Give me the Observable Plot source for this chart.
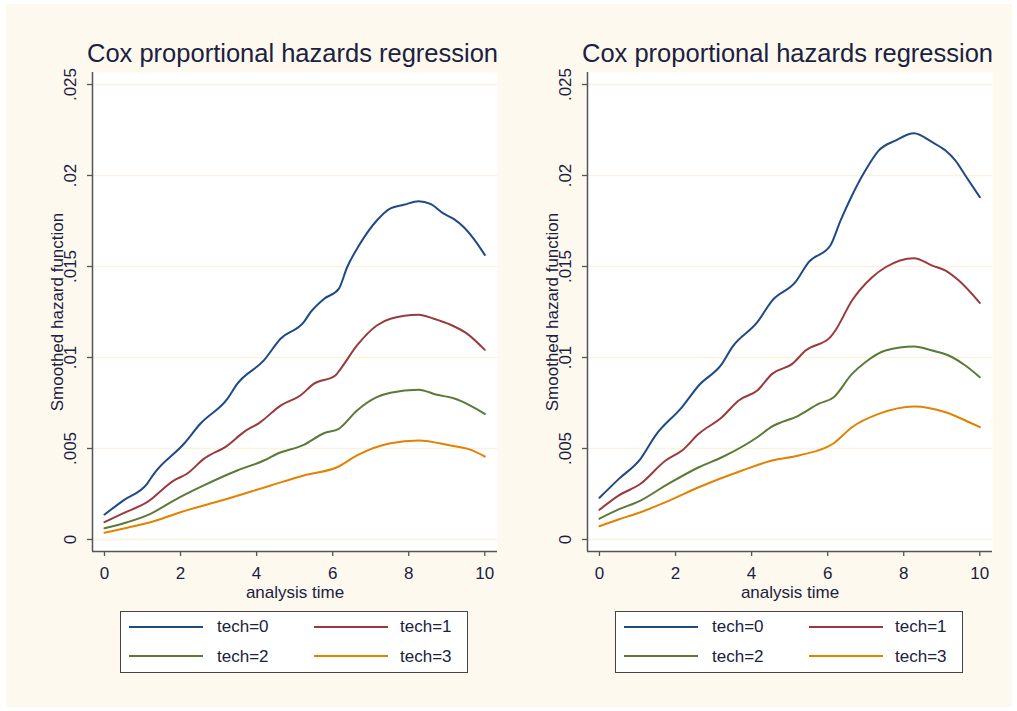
<!DOCTYPE html>
<html>
<head>
<meta charset="utf-8">
<script src="https://cdn.jsdelivr.net/npm/d3@7"></script>
<script src="https://cdn.jsdelivr.net/npm/@observablehq/plot@0.6"></script>
<style>
  html, body { margin: 0; padding: 0; background: #ffffff; }
  body { width: 1017px; height: 711px; overflow: hidden; }
  #page { position: absolute; left: 6px; top: 4px; width: 1006px; height: 703px; background: #fef9ef; }
  .abs { position: absolute; }
  .title { font-family: "Liberation Sans", Arial, sans-serif; font-size: 25.5px; line-height: 25px; color: #1b2140; white-space: nowrap; }
  .legend { background: #ffffff; border: 1px solid #444444; box-sizing: border-box; }
  .legtext { font-family: "Liberation Sans", Arial, sans-serif; font-size: 17px; line-height: 20px; color: #1b2140; white-space: nowrap; }
</style>
</head>
<body>
<div id="root"></div>
<script>
// ---------------- data ----------------
const techLabels = ["tech=0", "tech=1", "tech=2", "tech=3"];
const techColors = ["#1f4a85", "#9a3a40", "#5a7a35", "#e58100"];
const titleText = "Cox proportional hazards regression";
const yLabelText = "Smoothed hazard function";
const xLabelText = "analysis time";
const yTicks = [0, 0.005, 0.01, 0.015, 0.02, 0.025];
const yTickLabels = ["0", ".005", ".01", ".015", ".02", ".025"];
const xTicks = [0, 2, 4, 6, 8, 10];

// left panel: [analysis time, smoothed hazard]
const leftTech0 = [[0,0.00137],[0.5,0.00215],[1.12,0.00306],[1.30,0.00361],[2.09,0.00526],[2.52,0.00636],[3.23,0.00773],[3.49,0.00855],[4.19,0.00984],[4.63,0.01103],[5.24,0.01194],[5.42,0.01249],[5.77,0.01322],[6.16,0.01377],[6.38,0.01496],[6.69,0.01615],[7.16,0.01753],[7.52,0.0182],[7.87,0.01839],[8.26,0.01859],[8.57,0.01844],[8.92,0.0179],[9.18,0.01762],[9.45,0.01716],[9.71,0.01652],[10,0.01564]];
const leftTech1 = [[0,0.00095],[0.5,0.00145],[1.12,0.00205],[1.82,0.00324],[2.17,0.00361],[2.61,0.00443],[3.23,0.00516],[3.66,0.0059],[4.1,0.00645],[4.63,0.00736],[5.15,0.00791],[5.5,0.00855],[6.07,0.00901],[6.21,0.00938],[6.64,0.01066],[7.16,0.01176],[7.52,0.01213],[8.26,0.01235],[8.66,0.01213],[9.1,0.0118],[9.54,0.0113],[10,0.01042]];
const leftTech2 = [[0,0.00062],[0.6,0.00095],[1.21,0.00141],[1.82,0.00214],[2.61,0.00297],[3.49,0.00379],[4.19,0.00434],[4.54,0.00471],[5.24,0.0052],[5.77,0.00584],[6.16,0.00608],[6.64,0.00709],[7.16,0.00782],[7.52,0.00806],[8.26,0.00823],[8.74,0.00795],[9.18,0.00776],[9.62,0.00736],[10,0.0069]];
const leftTech3 = [[0,0.00037],[0.6,0.00065],[1.21,0.00095],[2.0,0.0015],[3.14,0.00218],[4.37,0.00297],[5.24,0.00352],[6.16,0.00401],[6.64,0.00462],[7.52,0.00529],[8.26,0.00544],[9.1,0.00516],[9.6,0.00495],[10,0.00456]];

// right panel
const rightTech0 = [[0,0.00229],[0.51,0.00333],[1.08,0.00443],[1.47,0.00571],[2.17,0.00727],[2.61,0.00846],[3.22,0.00965],[3.49,0.01057],[4.15,0.01194],[4.54,0.01313],[5.15,0.01414],[5.5,0.01524],[6.07,0.01615],[6.34,0.01753],[6.64,0.0189],[6.99,0.02027],[7.34,0.02137],[7.78,0.02192],[8.27,0.02232],[8.75,0.02183],[9.1,0.02137],[9.36,0.02082],[9.62,0.02],[10,0.01881]];
const rightTech1 = [[0,0.00163],[0.51,0.00242],[1.08,0.00306],[1.74,0.00434],[2.17,0.00489],[2.61,0.00581],[3.22,0.00672],[3.66,0.00764],[4.15,0.00819],[4.54,0.0091],[5.07,0.00965],[5.42,0.01038],[6.07,0.01112],[6.2,0.01148],[6.64,0.01313],[7.17,0.01441],[7.52,0.01496],[8.27,0.01546],[8.75,0.01505],[9.1,0.01478],[9.45,0.01423],[10,0.013]];
const rightTech2 = [[0,0.00114],[0.5,0.00165],[1.08,0.00214],[1.74,0.00297],[2.61,0.00397],[3.22,0.00452],[4.15,0.00562],[4.54,0.00621],[5.24,0.00681],[5.77,0.00746],[6.16,0.00782],[6.64,0.0091],[6.99,0.00974],[7.52,0.01038],[8.27,0.0106],[8.75,0.01038],[9.18,0.01011],[9.62,0.00956],[10,0.00892]];
const rightTech3 = [[0,0.00073],[0.5,0.0011],[1.08,0.0015],[1.74,0.00205],[2.61,0.00287],[3.75,0.00379],[4.54,0.00434],[5.24,0.00462],[6.16,0.00529],[6.64,0.00617],[7.34,0.0069],[8.27,0.00731],[9.1,0.00699],[9.62,0.00654],[10,0.00617]];

// ---------------- layout ----------------
const textColor = "#1b2140";
const axisColor = "#555555";
const gridColor = "#fbf2e0";
const font = "Liberation Sans, Arial, sans-serif";
// scale domains chosen so the frame edges fall just outside the data / tick range
const xDomain = [-0.315, 10.334];
const yDomain = [-0.00066, 0.02566];

const page = document.createElement("div");
page.id = "page";
document.body.appendChild(page);

function toRows(series) {
  const rows = [];
  series.forEach((s, i) => s.forEach(([t, v]) => rows.push({t, v, tech: techLabels[i]})));
  return rows;
}

function panel(offsetX, series) {
  const rows = toRows(series);
  const yTickData = yTicks.map((v, i) => ({v, label: yTickLabels[i]}));
  const chart = Plot.plot({
    width: 500,
    height: 600,
    marginLeft: 92,
    marginRight: 3,
    marginTop: 72,
    marginBottom: 49,
    style: {background: "transparent", fontFamily: font, color: textColor, overflow: "visible"},
    x: {domain: xDomain, axis: null},
    y: {domain: yDomain, axis: null},
    color: {domain: techLabels, range: techColors},
    marks: [
      Plot.frame({fill: "#ffffff", stroke: "none"}),
      Plot.ruleY(yTicks, {stroke: gridColor, strokeWidth: 1.5}),
      Plot.line(rows, {x: "t", y: "v", z: "tech", stroke: "tech", strokeWidth: 2, curve: "monotone-x"}),
      Plot.ruleX([xDomain[0]], {stroke: axisColor, strokeWidth: 1.5}),
      Plot.ruleY([yDomain[0]], {stroke: axisColor, strokeWidth: 1.5}),
      Plot.axisY({ticks: yTicks, tickSize: 5, tickFormat: () => "", label: null, stroke: axisColor, strokeWidth: 1.3}),
      Plot.text(yTickData, {y: "v", text: "label", frameAnchor: "left", dx: -21.5, rotate: -90, textAnchor: "middle", lineAnchor: "middle", fontSize: 17, fill: textColor}),
      Plot.axisX({ticks: xTicks, tickSize: 5, tickPadding: 10, label: null, fontSize: 17, stroke: axisColor, strokeWidth: 1.3, fill: textColor}),
      Plot.text([xLabelText], {text: d => d, frameAnchor: "bottom", dy: 40.6, textAnchor: "middle", lineAnchor: "middle", fontSize: 17, fill: textColor}),
      Plot.text([yLabelText], {text: d => d, frameAnchor: "left", dx: -34.5, rotate: -90, textAnchor: "middle", lineAnchor: "middle", fontSize: 17, fill: textColor})
    ]
  });
  chart.style.position = "absolute";
  chart.style.left = (offsetX - 6) + "px";
  chart.style.top = (0 - 4) + "px";
  page.appendChild(chart);

  const title = document.createElement("div");
  title.className = "abs title";
  title.textContent = titleText;
  title.style.left = (offsetX + 87 - 6) + "px";
  title.style.top = (41 - 4) + "px";
  page.appendChild(title);

  const legend = document.createElement("div");
  legend.className = "abs legend";
  legend.style.left = (offsetX + 120 - 6) + "px";
  legend.style.top = (611 - 4) + "px";
  legend.style.width = "348px";
  legend.style.height = "62px";
  page.appendChild(legend);
  techLabels.forEach((lab, i) => {
    const col = i % 2, row = Math.floor(i / 2);
    const sw = document.createElementNS("http://www.w3.org/2000/svg", "svg");
    sw.setAttribute("width", "76");
    sw.setAttribute("height", "6");
    sw.style.position = "absolute";
    sw.style.left = (7 + col * 185) + "px";
    sw.style.top = (12 + row * 28.5) + "px";
    const ln = document.createElementNS("http://www.w3.org/2000/svg", "line");
    ln.setAttribute("x1", "1"); ln.setAttribute("x2", "75");
    ln.setAttribute("y1", "3"); ln.setAttribute("y2", "3");
    ln.setAttribute("stroke", techColors[i]);
    ln.setAttribute("stroke-width", "2");
    sw.appendChild(ln);
    legend.appendChild(sw);
    const tx = document.createElement("div");
    tx.className = "abs legtext";
    tx.textContent = lab;
    tx.style.left = (96 + col * 183) + "px";
    tx.style.top = (5 + row * 29.5) + "px";
    legend.appendChild(tx);
  });
}

panel(0, [leftTech0, leftTech1, leftTech2, leftTech3]);
panel(495, [rightTech0, rightTech1, rightTech2, rightTech3]);
</script>
</body>
</html>
